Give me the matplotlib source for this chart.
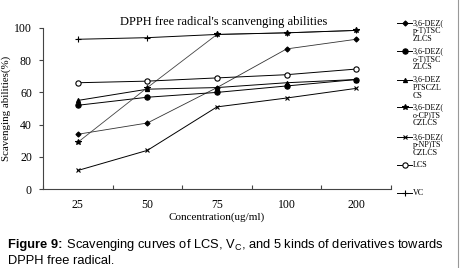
import matplotlib
matplotlib.use("Agg")
import matplotlib.pyplot as plt
from matplotlib.lines import Line2D
import numpy as np

categories = ["25", "50", "75", "100", "200"]
series_names = ["3,6-DEZ(\np-T)TSC\nZLCS", "3,6-DEZ(\no-T)TSC\nZLCS", "3,6-DEZ\nPTSCZL\nCS",
                "3,6-DEZ(\no-CP)TS\nCZLCS", "3,6-DEZ(\np-NP)TS\nCZLCS", "LCS", "VC"]
p_T = [34, 41, 63, 87, 93]
o_T = [52, 57, 60, 64, 68]
PTSCZ = [55, 62, 63, 66, 68]
o_CP = [29, 63, 96, 97, 98.5]
p_NP = [11.5, 24, 51, 56.5, 62.5]
LCS = [66, 67, 69, 71, 74.5]
VC = [93, 94, 96, 97, 98.5]
values = [p_T, o_T, PTSCZ, o_CP, p_NP, LCS, VC]

markers = ["D", "o", "^", "*", "x", "o", "+"]
msizes = [2.6, 3.8, 3.0, 4.0, 3.2, 3.8, 4.5]
mfaces = ["black", "black", "black", "black", "black", "white", "black"]
lcolors = ["#333333", "black", "black", "#444444", "black", "black", "black"]
lwidths = [0.6, 0.7, 0.7, 0.6, 0.7, 0.7, 0.7]

serif = "Liberation Serif"
W, H = 461, 268
fig = plt.figure(figsize=(W / 100, H / 100), dpi=100)
ax = fig.add_axes([43 / W, 1 - 189 / H, (391 - 43) / W, (189 - 28) / H])

x = np.arange(len(categories))
for vals, m, ms, mf, lc, lw in zip(values, markers, msizes, mfaces, lcolors, lwidths):
    ax.plot(x, vals, color=lc, lw=lw, marker=m, ms=ms, mfc=mf, mec="black", mew=0.8, clip_on=False)

ax.set_xlim(-0.5, len(categories) - 0.5)
ax.set_ylim(0, 100)
ax.spines["top"].set_visible(False)
ax.spines["right"].set_visible(False)
for s in ["left", "bottom"]:
    ax.spines[s].set_color("#444444")
    ax.spines[s].set_linewidth(0.8)

ax.set_xticks(np.arange(len(categories) + 1) - 0.5)
ax.set_xticklabels([])
ax.tick_params(axis="x", which="major", direction="in", length=3, color="#444444", width=0.8)
ax.set_xticks(x, minor=True)
ax.set_xticklabels(categories, minor=True, fontfamily=serif, fontsize=8.5)
ax.tick_params(axis="x", which="minor", length=0, pad=7)
ax.set_yticks([0, 20, 40, 60, 80, 100])
ax.tick_params(axis="y", direction="out", length=3, color="#444444", width=0.8, pad=5)
for lab in ax.get_yticklabels():
    lab.set_fontfamily(serif)
    lab.set_fontsize(8.5)
ax.set_xlabel("Concentration(ug/ml)", fontfamily=serif, fontsize=8, labelpad=1)
ax.set_ylabel("Scavenging abilities(%)", fontfamily=serif, fontsize=7.8, labelpad=2)

fig.text(224 / W, 1 - 22 / H, "DPPH free radical's scanvenging abilities", fontfamily=serif,
         fontsize=9, ha="center", va="center")

# legend (manual)
leg_y = [22.7, 51, 80, 107, 137, 165, 193]
for name, yy, m, ms, mf in zip(series_names, leg_y, markers, msizes, mfaces):
    fy = 1 - yy / H
    fig.add_artist(Line2D([397 / W, 412 / W], [fy, fy], color="black", lw=0.7,
                          transform=fig.transFigure))
    fig.add_artist(Line2D([405 / W], [fy], color="black", marker=m, ms=ms, mfc=mf, mec="black",
                          mew=0.8, transform=fig.transFigure))
    fig.text(413 / W, fy + 4 / H, name, fontfamily=serif, fontsize=5.8, ha="left", va="top",
             linespacing=1.0)

# right border
fig.add_artist(Line2D([458 / W, 458 / W], [0, 1], color="#999999", lw=0.8, transform=fig.transFigure))

# caption
cap_fs = 9.3
t1 = fig.text(8 / W, 1 - 248 / H, "Figure 9:", fontfamily="Liberation Sans", fontsize=cap_fs,
              fontweight="bold", ha="left", va="baseline")
fig.canvas.draw()
bb = t1.get_window_extent(renderer=fig.canvas.get_renderer())
fig.text(bb.x1 / (W), 1 - 248 / H,
         " Scavenging curves of LCS, V$_\\mathregular{C}$, and 5 kinds of derivatives towards",
         fontfamily="Liberation Sans", fontsize=cap_fs, ha="left", va="baseline")
fig.text(8 / W, 1 - 264 / H, "DPPH free radical.", fontfamily="Liberation Sans", fontsize=cap_fs,
         ha="left", va="baseline")

fig.savefig("out.png", dpi=100)
